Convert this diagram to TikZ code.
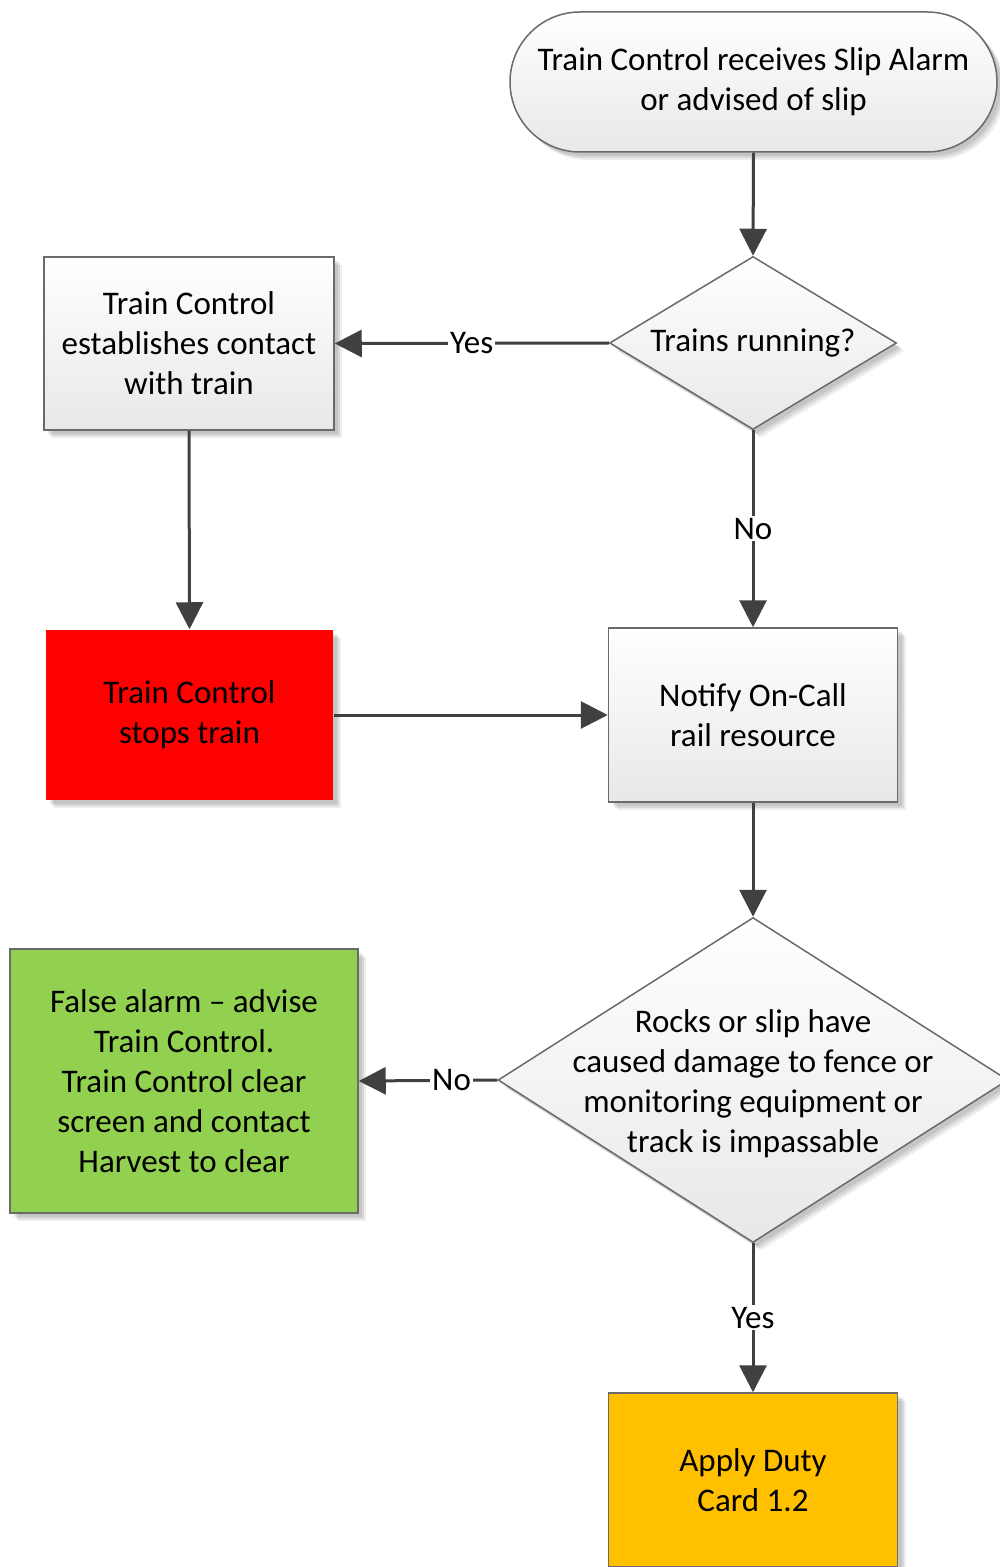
\documentclass[tikz,border=0pt]{standalone}
\usepackage{fontspec}
\setmainfont{Carlito}
\usetikzlibrary{shapes.geometric,arrows.meta,shadows}

\definecolor{linegray}{HTML}{404040}
\definecolor{edgegray}{HTML}{6A6A6A}
\definecolor{okgreen}{HTML}{92D050}
\definecolor{dutyamber}{HTML}{FFC000}

\tikzset{
  softshadow/.style={
    general shadow={shadow xshift=4pt, shadow yshift=-4pt, opacity=0.07, fill=black},
    general shadow={shadow xshift=3pt, shadow yshift=-3pt, opacity=0.09, fill=black},
    general shadow={shadow xshift=2pt, shadow yshift=-2pt, opacity=0.09, fill=black}},
  base/.style={font=\fontsize{16.5}{20}\selectfont, align=center, text=black,
    inner sep=0pt, line width=0.75pt, softshadow},
  greyfill/.style={top color=white, bottom color=black!9},
  terminal/.style={base, greyfill, draw=edgegray, rounded corners=35pt},
  procbox/.style={base, greyfill, draw=edgegray},
  colourbox/.style={base, draw=edgegray},
  decision/.style={base, greyfill, draw=edgegray, diamond, aspect=1},
  txt/.style={font=\fontsize{16.5}{20}\selectfont, align=center, text=black, inner sep=0pt},
  flow/.style={draw=linegray, line width=1.5pt,
    -{Triangle[length=13.5pt,width=13.5pt]}},
  tag/.style={font=\fontsize{16.5}{20}\selectfont, fill=white, text=black,
    inner sep=1pt}
}

\begin{document}
\begin{tikzpicture}[x=0.5pt, y=-0.5pt]
  \path[use as bounding box] (0,0) rectangle (1000,1567);
  \clip (0,0) rectangle (1000,1567);

  % start
  \node[terminal, minimum width=243.5pt, minimum height=70pt] (start) at (753.5,82)
    {Train Control receives Slip Alarm\\or advised of slip};

  % first decision
  \node[decision, minimum width=143.5pt, minimum height=86.5pt] (d1) at (753,343) {};
  \node[txt] (d1t) at (d1.center) {Trains running?};

  % contact the train
  \node[procbox, minimum width=145pt, minimum height=86.5pt] (contact) at (189,343.5)
    {Train Control\\establishes contact\\with train};

  % stop the train
  \node[colourbox, fill=red, draw=none, minimum width=143.5pt, minimum height=85pt]
    (stop) at (189.5,715) {Train Control\\stops train};

  % notify
  \node[procbox, minimum width=144.5pt, minimum height=87pt] (notify) at (753,715)
    {Notify On-Call\\rail resource};

  % second decision
  \node[decision, minimum width=255pt, minimum height=162.5pt] (d2) at (753,1080) {};
  \node[txt] (d2t) at ([yshift=-2pt]d2.center)
    {Rocks or slip have\\caused damage to fence or\\monitoring equipment or\\track is impassable};

  % false alarm
  \node[colourbox, fill=okgreen, minimum width=174pt, minimum height=132pt]
    (false) at (184,1081)
    {False alarm -- advise\\Train Control.\\Train Control clear\\screen and contact\\Harvest to clear};

  % duty card
  \node[colourbox, fill=dutyamber, minimum width=144.5pt, minimum height=87pt]
    (duty) at (753,1480) {Apply Duty\\Card 1.2};

  % connectors
  \draw[flow] (start.south) -- (d1.north);
  \draw[flow] (d1.west) -- node[tag, pos=0.5] (yes1) {Yes} (contact.east);
  \draw[flow] (d1.south) -- node[tag, pos=0.5] (no1) {No} (notify.north);
  \draw[flow] (contact.south) -- (stop.north);
  \draw[flow] (stop.east) -- (notify.west);
  \draw[flow] (notify.south) -- (d2.north);
  \draw[flow] (d2.west) -- node[tag, pos=0.33] (no2) {No} (false.east);
  \draw[flow] (d2.south) -- node[tag, pos=0.5] (yes2) {Yes} (duty.north);
\end{tikzpicture}
\end{document}
